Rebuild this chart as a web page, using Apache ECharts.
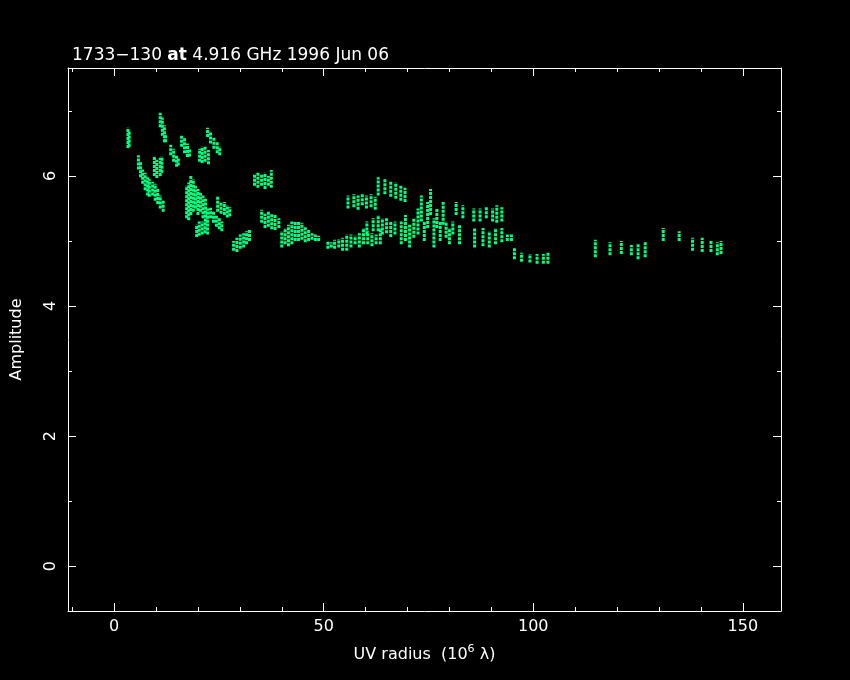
<!DOCTYPE html>
<html><head><meta charset="utf-8">
<script src="https://cdn.jsdelivr.net/npm/echarts@6/dist/echarts.min.js"></script>
<style>html,body{margin:0;padding:0;background:#000;}#c{width:850px;height:680px;}</style>
</head><body><div id="c"></div>
<script>
// Each streak segment: UV radius (10^6 lambda), amplitude low, amplitude high
var segX = [
 3.3,3.6,
 11.0,11.5,12.0,12.3,
 13.5,14.2,14.9,15.3,
 16.1,16.8,17.5,18.0,
 20.4,21.0,21.7,22.5,
 22.3,23.0,23.8,24.6,25.2,
 5.8,6.3,6.8,7.4,8.0,8.4,
 9.6,10.2,11.0,11.4,
 9.2,9.8,10.4,11.0,11.7,
 17.3,17.8,18.3,18.9,19.4,20.0,20.6,21.2,21.8,22.3,
 19.7,20.3,21.0,21.7,22.3,
 23.0,23.7,24.4,25.1,25.7,
 24.7,25.5,26.3,27.0,27.6,
 28.5,29.3,30.1,30.9,31.6,32.3,
 33.5,34.3,35.2,36.0,36.8,37.5,
 35.2,36.0,36.8,37.6,38.4,39.3,
 40.0,40.8,41.6,42.4,43.2,44.0,44.8,45.6,46.4,47.2,48.0,48.8,
 51.0,51.8,52.6,53.6,54.5,55.5,56.5,57.5,58.5,59.5,60.5,61.5,62.5,63.5,
 55.8,57.2,58.2,59.2,60.2,61.3,62.3,
 60.3,61.8,63.0,64.0,65.0,66.0,67.0,
 63.0,64.6,66.0,67.2,68.4,69.4,
 68.5,69.5,70.5,71.5,72.5,73.3,74.0,74.8,75.5,76.3,77.0,77.8,78.5,79.2,80.0,80.8,81.6,82.4,83.2,
 85.8,87.3,88.8,90.3,91.3,92.5,
 86.0,88.0,89.5,91.0,92.5,93.8,94.8,
 95.5,97.2,99.2,100.9,102.4,103.5,
 114.8,118.3,121.0,123.4,125.0,126.7,131.0,134.8,138.0,140.3,142.4,143.9,144.8
];
var segLow = [
 6.43,6.45,
 6.75,6.62,6.52,6.52,
 6.32,6.22,6.14,6.16,
 6.45,6.35,6.29,6.30,
 6.22,6.20,6.22,6.18,
 6.60,6.50,6.42,6.35,6.32,
 6.10,5.98,5.88,5.78,5.70,5.68,
 6.00,5.97,6.00,6.05,
 5.70,5.62,5.57,5.50,5.45,
 5.35,5.32,5.40,5.45,5.50,5.40,5.45,5.35,5.30,5.28,
 5.06,5.08,5.10,5.12,5.10,
 5.35,5.28,5.22,5.18,5.15,
 5.45,5.42,5.40,5.36,5.38,
 4.85,4.83,4.88,4.90,4.95,5.00,
 5.85,5.82,5.85,5.80,5.85,5.82,
 5.28,5.20,5.22,5.18,5.17,5.20,
 4.90,4.95,4.92,4.95,5.00,5.00,5.02,4.98,5.00,5.02,5.00,5.00,
 4.88,4.90,4.88,4.90,4.85,4.85,4.90,4.95,4.90,4.95,4.95,4.92,4.95,4.95,
 5.50,5.52,5.48,5.55,5.50,5.52,5.48,
 5.10,5.15,5.15,5.10,5.12,5.06,5.10,
 5.70,5.72,5.68,5.65,5.62,5.60,
 4.95,5.00,4.90,5.05,5.10,5.30,5.00,5.20,5.40,4.90,5.20,5.00,5.25,5.05,4.95,5.10,5.40,4.95,5.35,
 5.30,5.30,5.35,5.30,5.28,5.30,
 4.90,4.92,4.90,4.95,4.98,5.00,5.00,
 4.72,4.68,4.67,4.65,4.65,4.65,
 4.75,4.78,4.80,4.78,4.72,4.75,5.00,5.00,4.85,4.83,4.83,4.78,4.80
];
var segHigh = [
 6.74,6.70,
 6.97,6.90,6.78,6.65,
 6.48,6.42,6.32,6.28,
 6.62,6.58,6.50,6.42,
 6.42,6.45,6.46,6.40,
 6.74,6.68,6.60,6.52,6.45,
 6.32,6.22,6.10,6.05,5.98,5.95,
 6.30,6.25,6.28,6.30,
 5.91,5.88,5.80,5.70,5.62,
 5.85,5.90,6.00,5.95,5.85,5.80,5.75,5.70,5.65,5.50,
 5.25,5.30,5.30,5.32,5.28,
 5.51,5.45,5.40,5.35,5.30,
 5.68,5.60,5.60,5.55,5.52,
 5.00,5.05,5.10,5.12,5.15,5.17,
 6.02,6.05,6.02,6.05,6.00,6.09,
 5.48,5.42,5.45,5.42,5.40,5.35,
 5.15,5.20,5.25,5.30,5.30,5.30,5.28,5.22,5.18,5.12,5.10,5.08,
 5.00,4.98,5.02,5.03,5.05,5.10,5.10,5.08,5.12,5.20,5.15,5.12,5.10,5.20,
 5.70,5.72,5.70,5.72,5.70,5.72,5.68,
 5.30,5.35,5.40,5.35,5.35,5.30,5.30,
 5.98,5.95,5.92,5.90,5.85,5.82,
 5.30,5.40,5.25,5.35,5.50,5.70,5.30,5.60,5.80,5.35,5.50,5.30,5.60,5.30,5.20,5.30,5.60,5.25,5.55,
 5.50,5.50,5.52,5.50,5.55,5.52,
 5.20,5.20,5.15,5.20,5.20,5.10,5.10,
 4.90,4.82,4.80,4.80,4.80,4.82,
 5.02,4.98,5.00,4.94,4.95,4.98,5.20,5.15,5.05,5.05,5.00,4.98,5.00
];
var xMajorTicks = [0, 50, 100, 150];
var xMinorTicks = [-10, 10, 20, 30, 40, 60, 70, 80, 90, 110, 120, 130, 140];
var yMajorTicks = [0, 2, 4, 6];
var yMinorTicks = [1, 3, 5, 7];
var titleText = '1733\u2212130 {b|at} 4.916 GHz 1996 Jun 06';

var X_MIN = -11, X_MAX = 159.1, Y_MIN = -0.69, Y_MAX = 7.66;
var FONT = 'DejaVu Sans';
var GREEN = '#00ff80';

var segData = segX.map(function (x, i) { return [x, segLow[i], segHigh[i]]; });

function xAx(pos, ticks, len, showLabel, showLine) {
  return {
    type: 'value', position: pos, min: X_MIN, max: X_MAX,
    axisLine: { show: showLine, onZero: false, lineStyle: { color: '#fff', width: 1 } },
    axisTick: { show: true, inside: true, length: len, customValues: ticks, lineStyle: { color: '#fff', width: 1 } },
    axisLabel: { show: showLabel, customValues: ticks, color: '#fff', fontFamily: FONT, fontSize: 16, margin: 8 },
    splitLine: { show: false }
  };
}
function yAx(pos, ticks, len, showLabel, showLine) {
  return {
    type: 'value', position: pos, min: Y_MIN, max: Y_MAX,
    axisLine: { show: showLine, onZero: false, lineStyle: { color: '#fff', width: 1 } },
    axisTick: { show: true, inside: true, length: len, customValues: ticks, lineStyle: { color: '#fff', width: 1 } },
    axisLabel: { show: showLabel, customValues: ticks, rotate: 90, color: '#fff', fontFamily: FONT, fontSize: 16, margin: 9 },
    splitLine: { show: false }
  };
}

var xAxes = [
  xAx('bottom', xMajorTicks, 8, true, true),
  xAx('bottom', xMinorTicks, 4, false, false),
  xAx('top', xMajorTicks, 8, false, true),
  xAx('top', xMinorTicks, 4, false, false)
];
xAxes[0].name = 'UV radius  (10{sup|6} \u03bb)';
xAxes[0].nameLocation = 'middle';
xAxes[0].nameGap = 33;
xAxes[0].nameTextStyle = { color: '#fff', fontFamily: FONT, fontSize: 16,
  rich: { sup: { fontSize: 11, color: '#fff', fontFamily: FONT, padding: [0, 0, 10, 0] } } };

var yAxes = [
  yAx('left', yMajorTicks, 8, true, true),
  yAx('left', yMinorTicks, 4, false, false),
  yAx('right', yMajorTicks, 8, false, true),
  yAx('right', yMinorTicks, 4, false, false)
];
yAxes[0].name = 'Amplitude';
yAxes[0].nameLocation = 'middle';
yAxes[0].nameGap = 43;
yAxes[0].nameRotate = 90;
yAxes[0].nameTextStyle = { color: '#fff', fontFamily: FONT, fontSize: 16 };

var chart = echarts.init(document.getElementById('c'), null, { renderer: 'canvas' });
chart.setOption({
  backgroundColor: '#000',
  animation: false,
  title: {
    text: titleText, left: 67, top: 42,
    textStyle: { color: '#fff', fontFamily: FONT, fontSize: 17, fontWeight: 'normal',
      rich: { b: { color: '#fff', fontFamily: FONT, fontSize: 17, fontWeight: 'bold' } } }
  },
  grid: { left: 68, right: 69, top: 68, bottom: 69, containLabel: false },
  xAxis: xAxes,
  yAxis: yAxes,
  series: [{
    type: 'custom',
    xAxisIndex: 0, yAxisIndex: 0,
    data: segData,
    encode: { x: 0, y: [1, 2] },
    renderItem: function (params, api) {
      var p1 = api.coord([api.value(0), api.value(1)]);
      var p2 = api.coord([api.value(0), api.value(2)]);
      return {
        type: 'line',
        shape: { x1: p1[0], y1: p1[1], x2: p2[0], y2: p2[1] },
        style: { stroke: GREEN, lineWidth: 3, lineDash: [3, 1] }
      };
    }
  }]
});
</script></body></html>
